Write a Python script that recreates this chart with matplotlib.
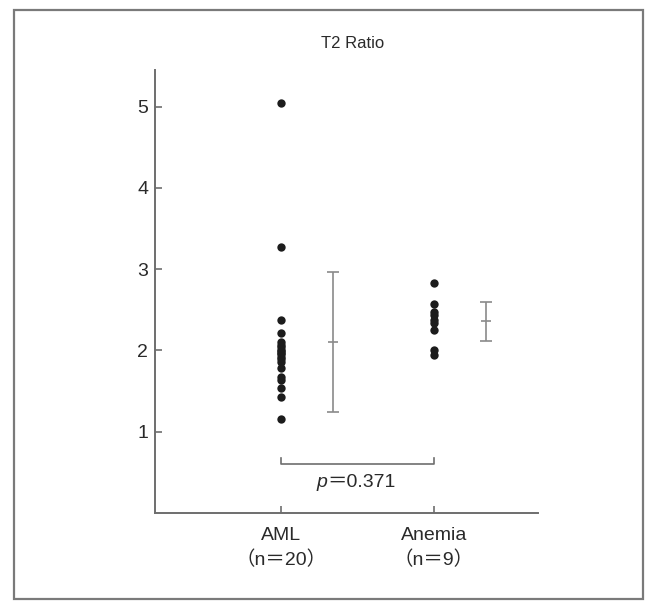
"""T2 ratio scatter: AML vs anemia."""

import matplotlib

matplotlib.use("Agg")

import matplotlib.pyplot as plt
from matplotlib.patches import Rectangle

plt.rcParams["font.family"] = ["Liberation Sans", "Noto Sans CJK JP", "DejaVu Sans"]

groups = ["AML\n（n＝20）", "Anemia\n（n＝9）"]
aml_values = [5.04, 3.27, 2.37, 2.21, 2.10, 2.07, 2.04, 2.01, 1.99, 1.97,
              1.95, 1.92, 1.89, 1.86, 1.78, 1.67, 1.64, 1.54, 1.43, 1.16]
anemia_values = [2.83, 2.57, 2.47, 2.43, 2.38, 2.34, 2.25, 2.00, 1.94]
group_means = [2.10, 2.36]
group_sds = [0.86, 0.24]
p_name = "p"
p_value = "＝0.371"
title = "T2 Ratio"

axis_gray = "#6e6e6e"
bar_gray = "#8a8a8a"
dot_color = "#1c1c1c"
text_color = "#2a2a2a"

fig = plt.figure(figsize=(6.49, 6.01), dpi=100)
ax = fig.add_axes([155 / 649, 1 - 513 / 601, 383 / 649, 443 / 601])

positions = [1, 2]
for pos, vals in zip(positions, [aml_values, anemia_values]):
    ax.scatter([pos] * len(vals), vals, s=36, color=dot_color, zorder=3,
               linewidths=0)

offset = 0.34
bar_x = [p + offset for p in positions]
ax.errorbar(bar_x, group_means, yerr=group_sds, fmt="none", ecolor=bar_gray,
            elinewidth=1.2, capsize=4, capthick=1.2)
ax.scatter(bar_x, group_means, marker="_", s=60, color=bar_gray,
           linewidths=1.2, zorder=2)

# significance bracket
ax.plot([positions[0], positions[0], positions[1], positions[1]],
        [0.68, 0.60, 0.60, 0.68], color=axis_gray, lw=1.2)
ax.text(1.30, 0.38, p_name, ha="right", va="center", fontsize=14,
        style="italic", color=text_color)
ax.text(1.30, 0.38, p_value, ha="left", va="center", fontsize=14,
        color=text_color)

ax.set_xlim(0.176, 2.68)
ax.set_ylim(0, 5.45)
ax.set_yticks([1, 2, 3, 4, 5])
ax.set_xticks(positions)
ax.set_xticklabels(groups, fontsize=14, color=text_color, linespacing=1.45)
ax.tick_params(axis="y", labelsize=14, labelcolor=text_color)
ax.tick_params(direction="in", length=5, width=1.2, color=axis_gray, pad=5)
ax.tick_params(axis="x", pad=10)

for side in ["top", "right"]:
    ax.spines[side].set_visible(False)
for side in ["left", "bottom"]:
    ax.spines[side].set_color(axis_gray)
    ax.spines[side].set_linewidth(1.4)

fig.text(353 / 649, 1 - 44 / 601, title, ha="center", va="center",
         fontsize=12, color=text_color)

# outer frame
fig.patches.append(Rectangle((14 / 649, 1 - 599 / 601), 629 / 649, 589 / 601,
                             transform=fig.transFigure, fill=False,
                             edgecolor="#7a7a7a", linewidth=1.6))

fig.savefig("out.png", dpi=100)
plt.close(fig)
